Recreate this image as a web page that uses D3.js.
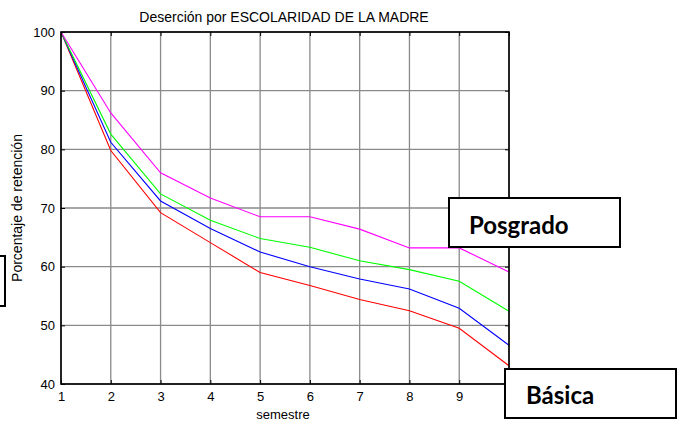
<!DOCTYPE html>
<html>
<head>
<meta charset="utf-8">
<script src="https://cdn.jsdelivr.net/npm/d3@7"></script>
<style>
  body { margin: 0; background: #fff; }
  text { font-family: "Liberation Sans", Arial, sans-serif; fill: #000; }
  .box-label { font-family: Lato, "Open Sans", sans-serif; font-weight: bold; }
</style>
</head>
<body>
<div id="chart"></div>
<script>
// semestres y porcentaje de retención por escolaridad de la madre
var semestres = [1, 2, 3, 4, 5, 6, 7, 8, 9, 10];
var basica   = [100, 79.8, 69.2, 64.1, 59.0, 56.8, 54.4, 52.5, 49.5, 43.1];
var media    = [100, 81.2, 71.2, 66.5, 62.5, 60.0, 57.9, 56.2, 52.9, 46.6];
var superior = [100, 82.6, 72.4, 67.9, 64.8, 63.3, 61.0, 59.5, 57.5, 52.4];
var posgrado = [100, 86.2, 76.0, 71.7, 68.5, 68.5, 66.4, 63.2, 63.2, 59.1];
var xTicks = [1, 2, 3, 4, 5, 6, 7, 8, 9, 10];
var yTicks = [40, 50, 60, 70, 80, 90, 100];

var series = [
    { values: basica, color: '#ff0000' },
    { values: media, color: '#0000ff' },
    { values: superior, color: '#00ff00' },
    { values: posgrado, color: '#ff00ff' }
];

var svg = d3.select('#chart').append('svg').attr('width', 680).attr('height', 425);

var plotLeft = 61, plotRight = 509, plotTop = 32, plotBottom = 384;

var x = d3.scaleLinear().domain([1, 10]).range([plotLeft, plotRight]);
var y = d3.scaleLinear().domain([40, 100]).range([plotBottom, plotTop]);

// grid
svg.append('g')
    .selectAll('line')
    .data(xTicks)
    .enter().append('line')
    .attr('x1', d => x(d)).attr('x2', d => x(d))
    .attr('y1', plotTop).attr('y2', plotBottom)
    .attr('stroke', '#8a8a8a').attr('stroke-width', 1.3);

svg.append('g')
    .selectAll('line')
    .data(yTicks)
    .enter().append('line')
    .attr('x1', plotLeft).attr('x2', plotRight)
    .attr('y1', d => y(d)).attr('y2', d => y(d))
    .attr('stroke', '#8a8a8a').attr('stroke-width', 1.3);

// data lines
var line = d3.line()
    .x((d, i) => x(semestres[i]))
    .y(d => y(d));

svg.append('g')
    .selectAll('path')
    .data(series)
    .enter().append('path')
    .attr('d', s => line(s.values))
    .attr('fill', 'none')
    .attr('stroke', s => s.color)
    .attr('stroke-width', 1.1);

// axes (ticks inward, MATLAB style)
svg.append('g')
    .attr('transform', `translate(0, ${plotBottom})`)
    .call(d3.axisBottom(x).tickValues(xTicks.slice(0, 9)).tickSize(-4).tickPadding(8).tickFormat(d3.format('d')))
    .call(g => g.select('.domain').remove());

svg.append('g')
    .attr('transform', `translate(0, ${plotTop})`)
    .call(d3.axisTop(x).tickValues(xTicks).tickSize(-4).tickFormat(''))
    .call(g => g.select('.domain').remove());

svg.append('g')
    .attr('transform', `translate(${plotLeft}, 0)`)
    .call(d3.axisLeft(y).tickValues(yTicks).tickSize(-4).tickPadding(6))
    .call(g => g.select('.domain').remove());

svg.append('g')
    .attr('transform', `translate(${plotRight}, 0)`)
    .call(d3.axisRight(y).tickValues(yTicks).tickSize(-4).tickFormat(''))
    .call(g => g.select('.domain').remove());

svg.selectAll('.tick text')
    .style('font-family', '"Liberation Sans", Arial, sans-serif')
    .style('font-size', '13px')
    .attr('fill', '#000');
svg.selectAll('.tick line').attr('stroke', '#000');

svg.append('rect')
    .attr('x', plotLeft).attr('y', plotTop)
    .attr('width', plotRight - plotLeft).attr('height', plotBottom - plotTop)
    .attr('fill', 'none')
    .attr('stroke', '#000')
    .attr('stroke-width', 1.6);

// titles
svg.append('text')
    .attr('x', 284)
    .attr('y', 22)
    .attr('text-anchor', 'middle')
    .style('font-size', '14px')
    .text('Deserción por ESCOLARIDAD DE LA MADRE');

svg.append('text')
    .attr('x', 283)
    .attr('y', 419)
    .attr('text-anchor', 'middle')
    .style('font-size', '13px')
    .text('semestre');

svg.append('text')
    .attr('transform', `translate(22, ${(plotTop + plotBottom) / 2}) rotate(-90)`)
    .attr('text-anchor', 'middle')
    .style('font-size', '14px')
    .text('Porcentaje de retención');

// annotation boxes
svg.append('rect')
    .attr('x', -60).attr('y', 256).attr('width', 65).attr('height', 50)
    .attr('fill', 'none').attr('stroke', '#000').attr('stroke-width', 2);

svg.append('rect')
    .attr('x', 449).attr('y', 198).attr('width', 171).attr('height', 49)
    .attr('fill', '#fff').attr('stroke', '#000').attr('stroke-width', 2);

svg.append('text')
    .attr('class', 'box-label')
    .attr('x', 469).attr('y', 234)
    .style('font-size', '24px')
    .text('Posgrado');

svg.append('rect')
    .attr('x', 505).attr('y', 369).attr('width', 171).attr('height', 49)
    .attr('fill', '#fff').attr('stroke', '#000').attr('stroke-width', 2);

svg.append('text')
    .attr('class', 'box-label')
    .attr('x', 526).attr('y', 404)
    .style('font-size', '24px')
    .text('Básica');
</script>
</body>
</html>
